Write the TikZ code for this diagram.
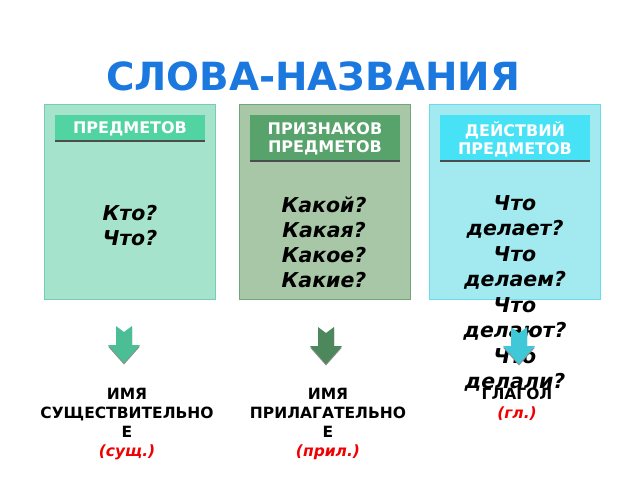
\documentclass[tikz,border=0pt]{standalone}
\usepackage{fontspec}
\setmainfont{DejaVu Sans}
\definecolor{titleblue}{RGB}{26,120,222}
\definecolor{mintfill}{RGB}{165,227,205}
\definecolor{mintline}{RGB}{118,206,176}
\definecolor{mintbar}{RGB}{82,212,162}
\definecolor{mintarrow}{RGB}{76,190,150}
\definecolor{sagefill}{RGB}{167,199,167}
\definecolor{sageline}{RGB}{112,166,122}
\definecolor{sagebar}{RGB}{88,162,108}
\definecolor{sagearrow}{RGB}{76,136,92}
\definecolor{cyanfill}{RGB}{162,234,240}
\definecolor{cyanline}{RGB}{104,220,236}
\definecolor{cyanbar}{RGB}{72,226,246}
\definecolor{cyanarrow}{RGB}{62,200,216}
\definecolor{abbrred}{RGB}{240,0,0}

\begin{document}
\begin{tikzpicture}[x=1pt, y=-1pt,
    panel/.style={line width=1pt},
    headtext/.style={text=white, inner sep=0, align=center, font=\bfseries\fontsize{16}{18}\selectfont},
    question/.style={inner sep=0, anchor=north, align=center, font=\bfseries\itshape\fontsize{20.5}{25}\selectfont},
    wordname/.style={inner sep=0, anchor=north, align=center, font=\bfseries\fontsize{15.5}{19}\selectfont},
    shadowline/.style={line width=2pt, black!70}]
        \useasboundingbox (0, 0) rectangle (640, 480);

        \node[text=titleblue, font=\bfseries\fontsize{38.8}{40}\selectfont] (title) at (313, 76) {СЛОВА-НАЗВАНИЯ};

        \draw[panel, draw=mintline, fill=mintfill] (44, 104) rectangle (215, 299);
        \draw[panel, draw=sageline, fill=sagefill] (239, 104) rectangle (410, 299);
        \draw[panel, draw=cyanline, fill=cyanfill] (429, 104) rectangle (600, 299);

        \fill[mintbar] (55, 115) rectangle (205, 141);
        \draw[shadowline] (55, 141) -- (205, 141);
        \fill[sagebar] (250, 115) rectangle (400, 161);
        \draw[shadowline] (250, 161) -- (400, 161);
        \fill[cyanbar] (440, 115) rectangle (590, 161);
        \draw[shadowline] (440, 161) -- (590, 161);

        \node[headtext] (head1) at (130, 129) {ПРЕДМЕТОВ};
        \node[headtext] (head2) at (325, 139) {ПРИЗНАКОВ\\ПРЕДМЕТОВ};
        \node[headtext] (head3) at (515, 139) {ДЕЙСТВИЙ\\ПРЕДМЕТОВ};

        \node[question] (ask1) at (130, 205) {Кто?\\Что?};
        \node[question] (ask2) at (324, 197) {Какой?\\Какая?\\Какое?\\Какие?};
        \node[question, font=\bfseries\itshape\fontsize{20.5}{25.5}\selectfont] (ask3) at (515, 195) {Что\\делает?\\Что\\делаем?\\Что\\делают?\\Что\\делали?};

        \fill[black!45] (116, 327.5) -- (124, 333.5) -- (132, 327.5) -- (132, 346.5) -- (140, 346.5) -- (124, 364.5) -- (108, 346.5) -- (116, 346.5) -- cycle;
        \fill[mintarrow] (116, 326) -- (124, 332) -- (132, 326) -- (132, 345) -- (140, 345) -- (124, 363) -- (108, 345) -- (116, 345) -- cycle;
        \fill[black!45] (318, 328.5) -- (326, 334.5) -- (334, 328.5) -- (334, 347.5) -- (342, 347.5) -- (326, 365.5) -- (310, 347.5) -- (318, 347.5) -- cycle;
        \fill[sagearrow] (318, 327) -- (326, 333) -- (334, 327) -- (334, 346) -- (342, 346) -- (326, 364) -- (310, 346) -- (318, 346) -- cycle;
        \fill[black!45] (511, 328.5) -- (519, 334.5) -- (527, 328.5) -- (527, 347.5) -- (535, 347.5) -- (519, 365.5) -- (503, 347.5) -- (511, 347.5) -- cycle;
        \fill[cyanarrow] (511, 327) -- (519, 333) -- (527, 327) -- (527, 346) -- (535, 346) -- (519, 364) -- (503, 346) -- (511, 346) -- cycle;

        \node[wordname] (noun) at (127, 388) {ИМЯ\\СУЩЕСТВИТЕЛЬНО\\Е\\{\color{abbrred}\itshape(сущ.)}};
        \node[wordname] (adjective) at (328, 388) {ИМЯ\\ПРИЛАГАТЕЛЬНО\\Е\\{\color{abbrred}\itshape(прил.)}};
        \node[wordname] (verb) at (517, 388) {ГЛАГОЛ\\{\color{abbrred}\itshape(гл.)}};
    \end{tikzpicture}
\end{document}
